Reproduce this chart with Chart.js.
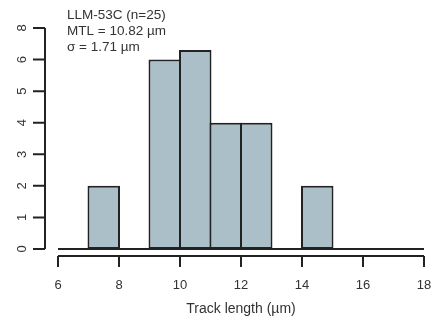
<!DOCTYPE html>
<html>
<head>
<meta charset="utf-8">
<script src="https://cdn.jsdelivr.net/npm/chart.js@4"></script>
<style>
  html, body { margin: 0; padding: 0; background: #fff; }
  #wrap { width: 438px; height: 321px; }
</style>
</head>
<body>
<div id="wrap"><canvas id="hist"></canvas></div>
<script>
// histogram data (bin start, count on the drawn axis)
const binStarts = [7, 9, 10, 11, 12, 14];
const counts = [2, 6, 6.3, 4, 4, 2];
const xTicks = [6, 8, 10, 12, 14, 16, 18];
const yTickLabels = ["0", "1", "2", "3", "4", "5", "6", "8"];
const infoLines = ["LLM-53C (n=25)", "MTL = 10.82 µm", "σ = 1.71 µm"];
const xTitle = "Track length (µm)";

const FONT = "'Liberation Sans', Arial, sans-serif";
const INK = "#222";
const TEXT = "#333";

// R-style detached axes, baseline, labels and the info text
const rAxes = {
  id: "rAxes",
  afterDatasetsDraw(chart) {
    const { ctx, scales: { x, y } } = chart;
    const y0 = y.getPixelForValue(0);
    const xa = x.getPixelForValue(xTicks[0]);
    const xb = x.getPixelForValue(xTicks[xTicks.length - 1]);
    ctx.save();
    ctx.strokeStyle = INK;
    ctx.lineWidth = 2;

    // baseline of the histogram
    ctx.beginPath();
    ctx.moveTo(xa, y0);
    ctx.lineTo(xb, y0);
    ctx.stroke();

    // x axis
    const xAxisY = y0 + 7;
    ctx.beginPath();
    ctx.moveTo(xa, xAxisY);
    ctx.lineTo(xb, xAxisY);
    xTicks.forEach(v => {
      const px = x.getPixelForValue(v);
      ctx.moveTo(px, xAxisY);
      ctx.lineTo(px, xAxisY + 11);
    });
    ctx.stroke();

    // y axis
    const yAxisX = xa - 13;
    const yTop = y.getPixelForValue(yTickLabels.length - 1);
    ctx.beginPath();
    ctx.moveTo(yAxisX, y0);
    ctx.lineTo(yAxisX, yTop);
    yTickLabels.forEach((lab, i) => {
      const py = y.getPixelForValue(i);
      ctx.moveTo(yAxisX, py);
      ctx.lineTo(yAxisX - 12, py);
    });
    ctx.stroke();

    ctx.fillStyle = TEXT;
    ctx.font = "13px " + FONT;
    ctx.textAlign = "center";
    ctx.textBaseline = "middle";
    yTickLabels.forEach((lab, i) => {
      const py = y.getPixelForValue(i);
      ctx.save();
      ctx.translate(yAxisX - 23, py);
      ctx.rotate(-Math.PI / 2);
      ctx.fillText(lab, 0, 0);
      ctx.restore();
    });

    xTicks.forEach(v => ctx.fillText(String(v), x.getPixelForValue(v), xAxisY + 29));

    ctx.font = "14px " + FONT;
    ctx.fillText(xTitle, (xa + xb) / 2, xAxisY + 53);

    // info text
    ctx.font = "13.5px " + FONT;
    ctx.textAlign = "left";
    infoLines.forEach((t, i) => ctx.fillText(t, 67, 15 + i * 16));
    ctx.restore();
  }
};

new Chart(document.getElementById("hist"), {
  type: "bar",
  data: {
    datasets: [{
      data: binStarts.map((b, i) => ({ x: b + 0.5, y: counts[i] })),
      backgroundColor: "#abbfc9",
      borderColor: INK,
      borderWidth: 2,
      borderSkipped: false,
      barPercentage: 1.065,
      categoryPercentage: 1
    }]
  },
  options: {
    responsive: true,
    maintainAspectRatio: false,
    animation: false,
    layout: { padding: { top: 28, right: 14, left: 0, bottom: 0 } },
    plugins: { legend: { display: false }, tooltip: { enabled: false } },
    scales: {
      x: {
        type: "linear",
        min: 6,
        max: 18,
        offset: false,
        grid: { display: false, drawTicks: false },
        border: { display: false },
        ticks: { display: false, stepSize: 2 },
        afterFit(scale) { scale.height = 72; }
      },
      y: {
        min: 0,
        max: 7,
        grid: { display: false, drawTicks: false },
        border: { display: false },
        ticks: { display: false, stepSize: 1 },
        afterFit(scale) { scale.width = 58; }
      }
    }
  },
  plugins: [rAxes]
});
</script>
</body>
</html>
